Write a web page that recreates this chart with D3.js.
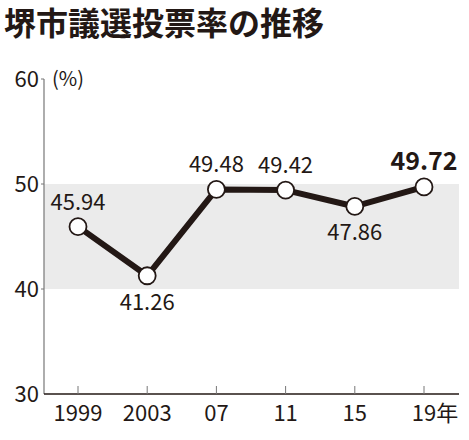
<!DOCTYPE html>
<html><head><meta charset="utf-8">
<script src="https://cdn.jsdelivr.net/npm/d3@7"></script>
<style>body{margin:0;background:#fff}text{font-family:"Noto Sans CJK JP","Noto Sans",sans-serif;fill:#231815}</style>
</head><body><svg id="c" width="469" height="440"></svg>
<script>
const years = ['1999', '2003', '07', '11', '15', '19'];
const turnout = [45.94, 41.26, 49.48, 49.42, 47.86, 49.72];
const yTicks = [30, 40, 50, 60];

const svg = d3.select('#c');
const x = d3.scalePoint().domain(years).range([78, 424]);
const y = d3.scaleLinear().domain([30, 60]).range([394, 79]);
const ink = '#231815';

svg.append('text').attr('x', 4).attr('y', 35).style('font-size', '32px').style('font-weight', 'bold').text('堺市議選投票率の推移');

svg.append('rect').attr('x', 44).attr('width', 415).attr('y', y(50)).attr('height', y(40)-y(50)).style('fill', '#ebebeb');

svg.append('line').attr('x1', 44).attr('x2', 44).attr('y1', y(60)).attr('y2', y(30)).style('stroke', '#777').style('stroke-width', 1.2);
svg.append('line').attr('x1', 44).attr('x2', 459).attr('y1', y(30)).attr('y2', y(30)).style('stroke', ink).style('stroke-width', 1.4);

yTicks.forEach((t)=>{
  svg.append('text').attr('x', 39).attr('y', y(t)+8).attr('text-anchor', 'end').style('font-size', '22px').text(t);
  if (t > 30) svg.append('line').attr('x1', 41).attr('x2', 44).attr('y1', y(t)).attr('y2', y(t)).style('stroke', '#777');
});
svg.append('text').attr('x', 52).attr('y', y(60)+7).style('font-size', '20px').text('(%)');

years.forEach((yr)=>{
  svg.append('line').attr('x1', x(yr)).attr('x2', x(yr)).attr('y1', y(30)).attr('y2', y(30)-8).style('stroke', '#777');
  const last = yr === '19';
  svg.append('text').attr('x', x(yr) + (last ? 11 : 0)).attr('y', 421).attr('text-anchor', 'middle').style('font-size', '22px')
      .text(yr + (last ? '年' : ''));
});

const data = years.map((yr, i)=>({yr: yr, v: turnout[i]}));
svg.append('path').datum(data)
    .attr('d', d3.line().x((d)=>x(d.yr)).y((d)=>y(d.v)))
    .style('fill', 'none').style('stroke', ink).style('stroke-width', 6).style('stroke-linejoin', 'round');
svg.selectAll('circle').data(data).enter().append('circle')
    .attr('cx', (d)=>x(d.yr)).attr('cy', (d)=>y(d.v)).attr('r', 8.5)
    .style('fill', '#fff').style('stroke', ink).style('stroke-width', 1.8);

const below = [false, true, false, false, true, false];
data.forEach((d, i)=>{
  const last = i === data.length-1;
  svg.append('text').attr('x', x(d.yr)).attr('y', below[i] ? y(d.v)+34 : y(d.v)-17)
      .attr('text-anchor', 'middle').style('font-size', last ? '25px' : '22px').style('font-weight', last ? 'bold' : 'normal')
      .text(d.v.toFixed(2));
});
</script></body></html>
